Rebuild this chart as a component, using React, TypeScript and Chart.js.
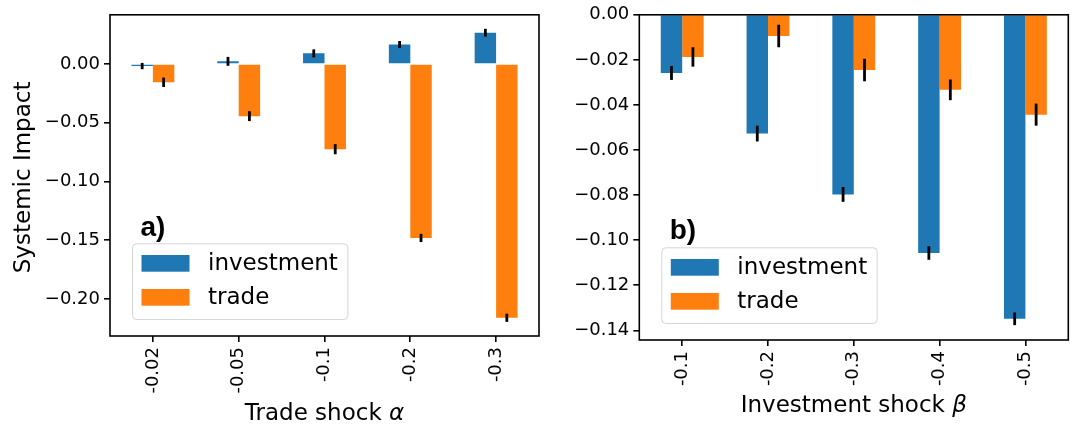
import React, { useEffect, useRef } from 'react';
import { Chart, registerables } from 'chart.js';

Chart.register(...registerables);

// ---------------- data ----------------
const seriesNames = ['investment', 'trade'];
const seriesColors = ['#1f77b4', '#ff7f0e'];

const categoriesA = ['-0.02', '-0.05', '-0.1', '-0.2', '-0.3'];
const investmentA = [-0.0018, 0.0022, 0.009, 0.0165, 0.0266];
const investmentAErr = [0.0027, 0.0038, 0.0034, 0.003, 0.0033];
const tradeA = [-0.0156, -0.0444, -0.0725, -0.148, -0.2159];
const tradeAErr = [0.004, 0.0042, 0.0043, 0.0035, 0.0035];
const yTicksA = [0, -0.05, -0.1, -0.15, -0.2];
const yRangeA = [-0.2314, 0.0418];

const categoriesB = ['-0.1', '-0.2', '-0.3', '-0.4', '-0.5'];
const investmentB = [-0.0258, -0.0527, -0.0797, -0.1057, -0.1349];
const investmentBErr = [0.0031, 0.0035, 0.0033, 0.003, 0.0028];
const tradeB = [-0.0187, -0.0094, -0.0245, -0.0333, -0.0443];
const tradeBErr = [0.0043, 0.005, 0.005, 0.0046, 0.0049];
const yTicksB = [0, -0.02, -0.04, -0.06, -0.08, -0.1, -0.12, -0.14];
const yRangeB = [-0.1443, 0];

const FONT = "'DejaVu Sans', 'Noto Sans', sans-serif";
const TAG_FONT = "bold 28px 'Liberation Sans', Arial, sans-serif";
const TITLE_SIZE = 23;

const fmt = (v: number) => (v < -1e-9 ? '\u2212' : '') + Math.abs(v).toFixed(2);

type PanelProps = {
  left: number;
  width: number;
  padTop: number;
  padRight: number;
  yAxisWidth: number;
  xAxisHeight: number;
  categories: string[];
  inv: number[];
  invErr: number[];
  trade: number[];
  tradeErr: number[];
  yTicks: number[];
  yRange: number[];
  xTitle: string;
  xSymbol: string;
  xTitleOffset: number;
  yTitle?: string;
  yTitleX?: number;
  tag: string;
};

function makeDecor(p: PanelProps) {
  return {
    id: 'decor',
    afterDraw(chart: any) {
      const ctx: CanvasRenderingContext2D = chart.ctx;
      const a = chart.chartArea;
      const ys = chart.scales.y;
      const w = a.right - a.left;
      const h = a.bottom - a.top;

      // error bars
      chart.data.datasets.forEach((ds: any, i: number) => {
        const meta = chart.getDatasetMeta(i);
        meta.data.forEach((el: any, j: number) => {
          const v = ds.data[j];
          const e = ds.errors[j];
          ctx.save();
          ctx.strokeStyle = '#000';
          ctx.lineWidth = 2.8;
          ctx.beginPath();
          ctx.moveTo(el.x, ys.getPixelForValue(v - e));
          ctx.lineTo(el.x, ys.getPixelForValue(v + e));
          ctx.stroke();
          ctx.restore();
        });
      });

      // frame
      ctx.save();
      ctx.strokeStyle = '#000';
      ctx.lineWidth = 1.6;
      ctx.strokeRect(a.left, a.top, w, h);
      ctx.restore();

      // tag
      ctx.save();
      ctx.fillStyle = '#000';
      ctx.font = TAG_FONT;
      ctx.textBaseline = 'alphabetic';
      ctx.textAlign = 'left';
      ctx.fillText(p.tag, a.left + 0.071 * w, a.top + 0.69 * h);
      ctx.restore();

      // legend
      ctx.save();
      ctx.font = `23px ${FONT}`;
      const tw = Math.max(...seriesNames.map((n) => ctx.measureText(n).width));
      const bw = 76 + tw + 9.5;
      const bh = 75.7;
      const bx = a.left + 22;
      const by = a.bottom - 17 - bh;
      ctx.beginPath();
      (ctx as any).roundRect(bx + 0.5, by + 0.5, bw, bh, 4);
      ctx.fillStyle = 'rgba(255,255,255,0.8)';
      ctx.fill();
      ctx.strokeStyle = 'rgba(204,204,204,0.8)';
      ctx.lineWidth = 1;
      ctx.stroke();
      seriesNames.forEach((n, i) => {
        const py = by + 11.7 + i * 34;
        ctx.fillStyle = seriesColors[i];
        ctx.fillRect(bx + 9.5, py, 48, 16.7);
        ctx.fillStyle = '#000';
        ctx.textBaseline = 'middle';
        ctx.textAlign = 'left';
        ctx.fillText(n, bx + 76, py + 8.35 + 1);
      });
      ctx.restore();

      // x title with italic symbol
      ctx.save();
      ctx.fillStyle = '#000';
      ctx.textBaseline = 'alphabetic';
      ctx.textAlign = 'left';
      const normalFont = `${TITLE_SIZE}px ${FONT}`;
      const italicFont = `italic ${TITLE_SIZE}px ${FONT}`;
      ctx.font = normalFont;
      const w1 = ctx.measureText(p.xTitle).width;
      ctx.font = italicFont;
      const w2 = ctx.measureText(p.xSymbol).width;
      const cx = (a.left + a.right) / 2;
      const sx = cx - (w1 + w2) / 2;
      const baseY = a.bottom + p.xTitleOffset;
      ctx.font = normalFont;
      ctx.fillText(p.xTitle, sx, baseY);
      ctx.font = italicFont;
      ctx.fillText(p.xSymbol, sx + w1, baseY);
      ctx.restore();

      // y title
      if (p.yTitle) {
        ctx.save();
        ctx.fillStyle = '#000';
        ctx.font = `${TITLE_SIZE}px ${FONT}`;
        ctx.textAlign = 'center';
        ctx.textBaseline = 'alphabetic';
        ctx.translate(p.yTitleX || 28, (a.top + a.bottom) / 2 + 2);
        ctx.rotate(-Math.PI / 2);
        ctx.fillText(p.yTitle, 0, 0);
        ctx.restore();
      }
    },
  };
}

function Panel(p: PanelProps) {
  const ref = useRef<HTMLCanvasElement | null>(null);
  useEffect(() => {
    if (!ref.current) return;
    const tickFont = { family: FONT, size: 18 };
    const chart = new Chart(ref.current, {
      type: 'bar',
      data: {
        labels: p.categories,
        datasets: [
          {
            label: seriesNames[0],
            data: p.inv,
            errors: p.invErr,
            backgroundColor: seriesColors[0],
            borderWidth: 0,
            categoryPercentage: 0.5,
            barPercentage: 1.0,
          } as any,
          {
            label: seriesNames[1],
            data: p.trade,
            errors: p.tradeErr,
            backgroundColor: seriesColors[1],
            borderWidth: 0,
            categoryPercentage: 0.5,
            barPercentage: 1.0,
          } as any,
        ],
      },
      options: {
        responsive: false,
        animation: false,
        events: [],
        layout: { padding: { top: p.padTop, right: p.padRight, left: 0, bottom: 0 } },
        plugins: { legend: { display: false }, tooltip: { enabled: false } },
        scales: {
          x: {
            type: 'category',
            offset: true,
            grid: { offset: false, drawOnChartArea: false, tickLength: 6, color: '#000', lineWidth: 1.6 },
            border: { display: false },
            ticks: { minRotation: 90, maxRotation: 90, autoSkip: false, font: tickFont, color: '#000', padding: 5 },
            afterFit: (s: any) => {
              s.height = p.xAxisHeight;
            },
          },
          y: {
            min: p.yRange[0],
            max: p.yRange[1],
            afterBuildTicks: (s: any) => {
              s.ticks = p.yTicks.map((v) => ({ value: v }));
            },
            grid: { drawOnChartArea: false, tickLength: 6, color: '#000', lineWidth: 1.6 },
            border: { display: false },
            ticks: { font: tickFont, color: '#000', padding: 4, callback: (v: any) => fmt(Number(v)) },
            afterFit: (s: any) => {
              s.width = p.yAxisWidth;
            },
          },
        },
      } as any,
      plugins: [makeDecor(p)],
    });
    return () => chart.destroy();
  }, []);
  return (
    <canvas
      ref={ref}
      width={p.width}
      height={425}
      style={{ position: 'absolute', left: p.left, top: 0, width: p.width, height: 425 }}
    />
  );
}

export default function App() {
  return (
    <div style={{ position: 'absolute', left: 0, top: 0, width: 1074, height: 425, background: '#fff' }}>
      <Panel
        left={0}
        width={555}
        padTop={14}
        padRight={16}
        yAxisWidth={110}
        xAxisHeight={89}
        categories={categoriesA}
        inv={investmentA}
        invErr={investmentAErr}
        trade={tradeA}
        tradeErr={tradeAErr}
        yTicks={yTicksA}
        yRange={yRangeA}
        xTitle="Trade shock "
        xSymbol="α"
        xTitleOffset={84}
        yTitle="Systemic Impact"
        yTitleX={29.5}
        tag="a)"
      />
      <Panel
        left={555}
        width={519}
        padTop={13.3}
        padRight={5.7}
        yAxisWidth={84.3}
        xAxisHeight={85}
        categories={categoriesB}
        inv={investmentB}
        invErr={investmentBErr}
        trade={tradeB}
        tradeErr={tradeBErr}
        yTicks={yTicksB}
        yRange={yRangeB}
        xTitle="Investment shock "
        xSymbol="β"
        xTitleOffset={71.5}
        tag="b)"
      />
    </div>
  );
}
